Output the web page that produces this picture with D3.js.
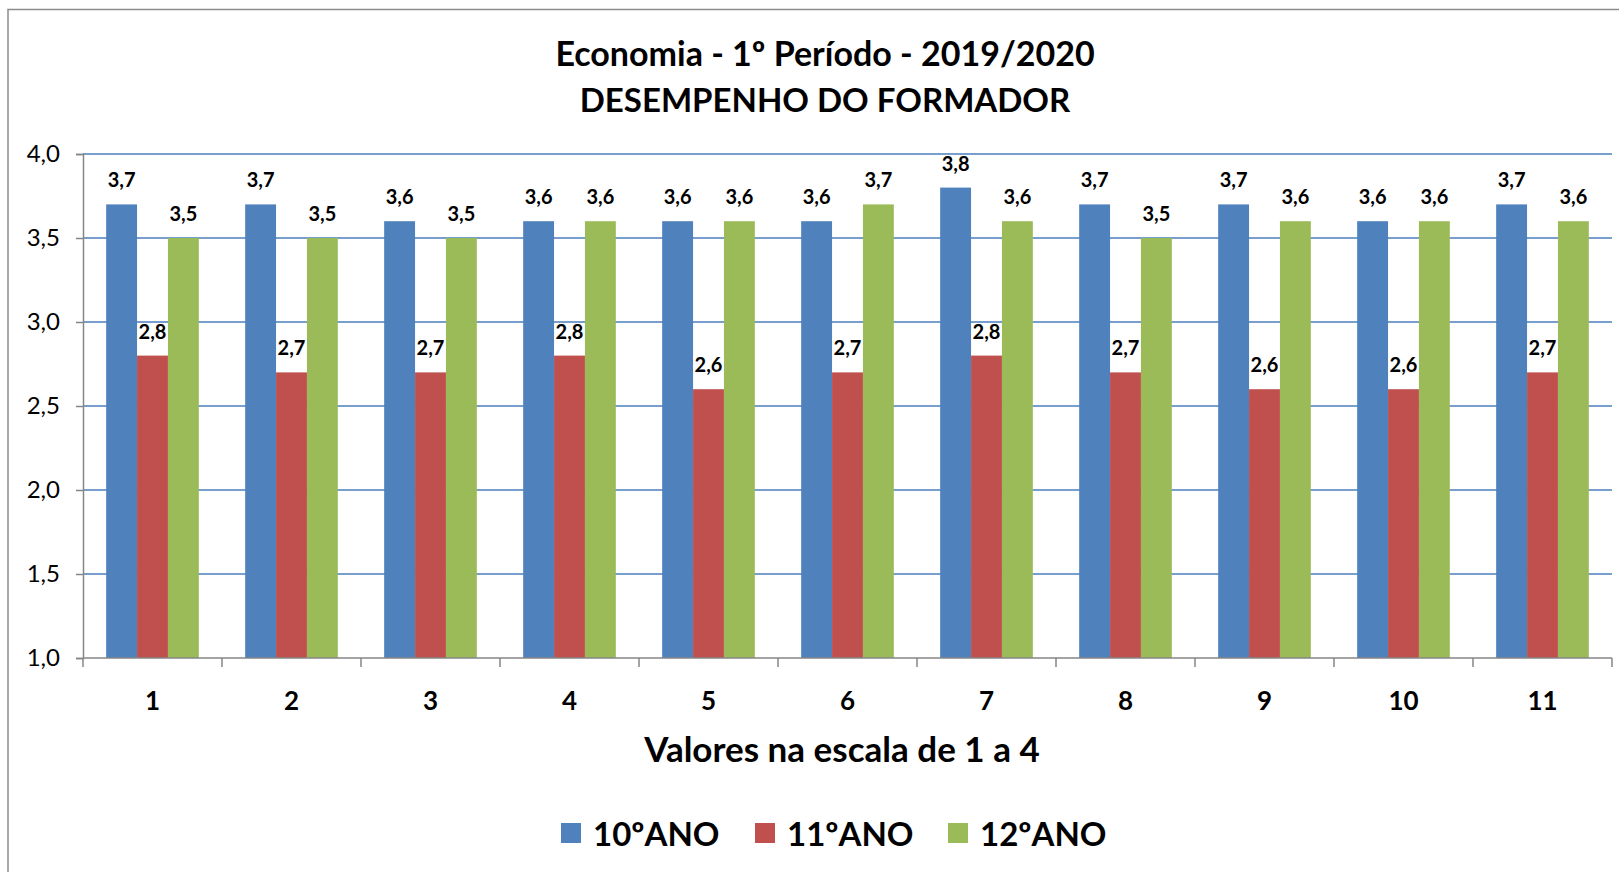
<!DOCTYPE html>
<html>
<head>
<meta charset="utf-8">
<script src="https://cdn.jsdelivr.net/npm/d3@7"></script>
<style>
body { margin: 0; background: white; }
svg text { font-family: Lato, "Open Sans", sans-serif; fill: #000; }
</style>
</head>
<body>
<svg id="chart"></svg>
<script>
var categories = ["1", "2", "3", "4", "5", "6", "7", "8", "9", "10", "11"]
var seriesNames = ["10ºANO", "11ºANO", "12ºANO"]
var ano10 = [3.7, 3.7, 3.6, 3.6, 3.6, 3.6, 3.8, 3.7, 3.7, 3.6, 3.7]
var ano11 = [2.8, 2.7, 2.7, 2.8, 2.6, 2.7, 2.8, 2.7, 2.6, 2.6, 2.7]
var ano12 = [3.5, 3.5, 3.5, 3.6, 3.6, 3.7, 3.6, 3.5, 3.6, 3.6, 3.6]
var yTicks = [1.0, 1.5, 2.0, 2.5, 3.0, 3.5, 4.0]
var titleLines = ["Economia - 1º Período - 2019/2020", "DESEMPENHO DO FORMADOR"]
var xTitle = "Valores na escala de 1 a 4"

var colors = ["#4f81bd", "#c0504d", "#9bbb59"]
var values = [ano10, ano11, ano12]

var width = 1619
var height = 872

var svg = d3.select("#chart")
    .attr("width", width)
    .attr("height", height)

// frame of the chart area
svg.append("rect")
    .attr("x", 8)
    .attr("y", 9.5)
    .attr("width", 1650)
    .attr("height", 900)
    .attr("fill", "white")
    .attr("stroke", "#8c8c8c")
    .attr("stroke-width", 1.5)

var plotLeft = 83, plotRight = 1612, plotTop = 154, plotBottom = 658

var x = d3.scaleBand()
    .domain(categories)
    .range([plotLeft, plotRight])

var xs = d3.scaleBand()
    .domain(seriesNames)
    .range([0, x.bandwidth()])
    .paddingOuter(0.75)

var y = d3.scaleLinear()
    .domain([1, 4])
    .range([plotBottom, plotTop])

var comma = function(v) { return d3.format(".1f")(v).replace(".", ",") }

// gridlines
svg.append("g")
    .selectAll("line")
    .data(yTicks.filter(function(d) { return d > 1 }))
    .enter()
    .append("line")
    .attr("x1", plotLeft)
    .attr("x2", plotRight)
    .attr("y1", function(d) { return y(d) })
    .attr("y2", function(d) { return y(d) })
    .attr("stroke", "#4a7ebb")
    .attr("stroke-width", 1.5)

// bars
var groups = svg.append("g")
    .selectAll("g")
    .data(seriesNames)
    .enter()
    .append("g")
    .attr("fill", function(d, i) { return colors[i] })

function rows(d, i) {
    return categories.map(function(c, j) { return {s: d, c: c, v: values[i][j]} })
}

groups.selectAll("rect")
    .data(rows)
    .enter()
    .append("rect")
    .attr("x", function(d) { return x(d.c) + xs(d.s) })
    .attr("width", xs.bandwidth())
    .attr("y", function(d) { return y(d.v) })
    .attr("height", function(d) { return y(1) - y(d.v) })

svg.append("g")
    .selectAll("g")
    .data(seriesNames)
    .enter()
    .append("g")
    .selectAll("text")
    .data(rows)
    .enter()
    .append("text")
    .attr("x", function(d) { return x(d.c) + xs(d.s) + xs.bandwidth() / 2 })
    .attr("y", function(d) { return y(d.v) - 17 })
    .attr("text-anchor", "middle")
    .style("font-size", "20px")
    .style("font-weight", "bold")
    .text(function(d) { return comma(d.v) })

// y axis
var yAxis = svg.append("g")
    .attr("transform", "translate(" + plotLeft + ",0)")
    .call(d3.axisLeft(y).tickValues(yTicks).tickFormat(comma).tickSize(7).tickPadding(16))
yAxis.selectAll("line, path").attr("stroke", "#868686").attr("stroke-width", 1.5)
yAxis.selectAll("text")
    .attr("fill", "#000")
    .style("font-size", "24px")
    .style("font-family", "Lato, sans-serif")

// x axis
svg.append("line")
    .attr("x1", plotLeft).attr("x2", plotRight)
    .attr("y1", plotBottom).attr("y2", plotBottom)
    .attr("stroke", "#868686").attr("stroke-width", 1.5)

svg.append("g")
    .selectAll("line")
    .data(categories.concat([null]))
    .enter()
    .append("line")
    .attr("x1", function(d) { return d === null ? plotRight : x(d) })
    .attr("x2", function(d) { return d === null ? plotRight : x(d) })
    .attr("y1", plotBottom)
    .attr("y2", plotBottom + 9)
    .attr("stroke", "#868686").attr("stroke-width", 1.5)

svg.append("g")
    .selectAll("text")
    .data(categories)
    .enter()
    .append("text")
    .attr("x", function(d) { return x(d) + x.bandwidth() / 2 })
    .attr("y", 710)
    .attr("text-anchor", "middle")
    .style("font-size", "26px")
    .style("font-weight", "bold")
    .text(function(d) { return d })

// titles
svg.append("g")
    .selectAll("text")
    .data(titleLines)
    .enter()
    .append("text")
    .attr("x", 825)
    .attr("y", function(d, i) { return 66 + i * 46 })
    .attr("text-anchor", "middle")
    .style("font-size", function(d, i) { return i ? "33px" : "34px" })
    .style("font-weight", "bold")
    .text(function(d) { return d })

svg.append("text")
    .attr("x", 842)
    .attr("y", 762)
    .attr("text-anchor", "middle")
    .style("font-size", "35px")
    .style("font-weight", "bold")
    .text(xTitle)

// legend
var legendX = [561, 755, 948]
var legend = svg.append("g")
    .selectAll("g")
    .data(seriesNames)
    .enter()
    .append("g")
    .attr("transform", function(d, i) { return "translate(" + legendX[i] + ",823)" })

legend.append("rect")
    .attr("width", 20)
    .attr("height", 20)
    .attr("fill", function(d, i) { return colors[i] })

legend.append("text")
    .attr("x", 32)
    .attr("y", 23)
    .style("font-size", "33px")
    .style("font-weight", "bold")
    .text(function(d) { return d })
</script>
</body>
</html>
